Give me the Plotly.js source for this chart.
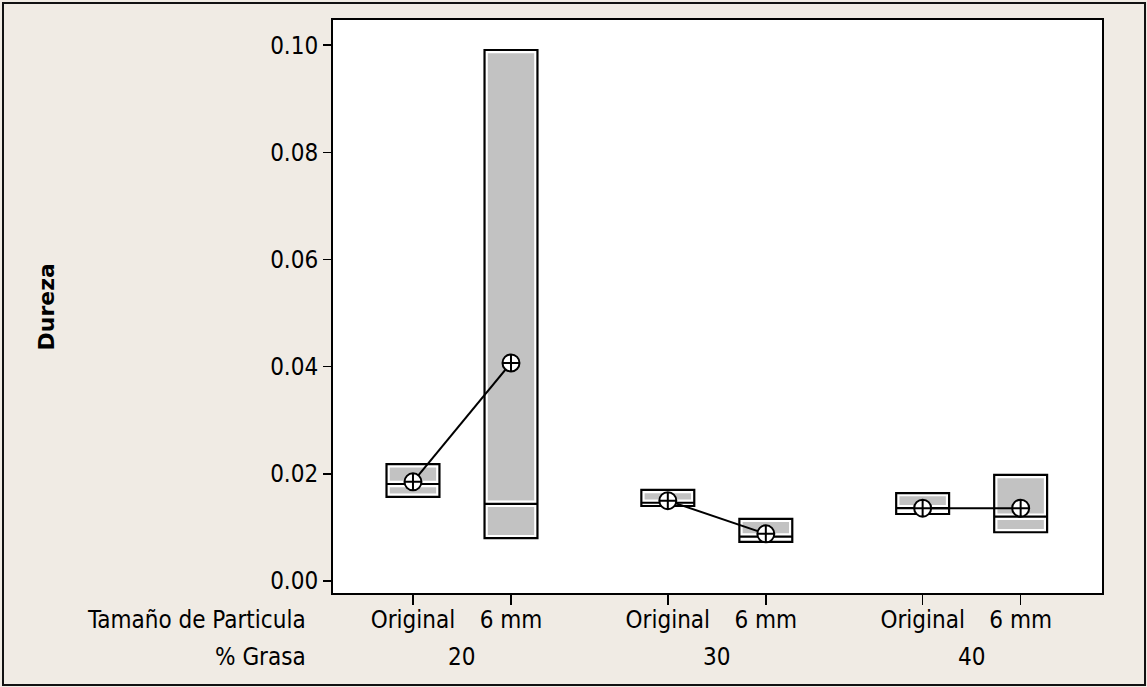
<!DOCTYPE html>
<html>
<head>
<meta charset="utf-8">
<script src="https://cdn.plot.ly/plotly-3.0.1.min.js"></script>
<style>html,body{margin:0;padding:0;background:#f0ebe4;}#chart{width:1147px;height:687px;}</style>
</head>
<body>
<div id="chart"></div>
<script>
// Data (Minitab-style boxplot, no whiskers)
const grasa = ["20", "30", "40"];
const tamano = ["Original", "6 mm"];
const positions = [1, 2, 3.6, 4.6, 6.2, 7.2];
const tickLabels = ["Original", "6 mm", "Original", "6 mm", "Original", "6 mm"];
const q1     = [0.0157, 0.0080, 0.0140, 0.0073, 0.0125, 0.0091];
const median = [0.0181, 0.0144, 0.0146, 0.0083, 0.0136, 0.0120];
const q3     = [0.0218, 0.0991, 0.0170, 0.0116, 0.0164, 0.0198];
const means  = [0.0185, 0.0407, 0.0150, 0.0088, 0.0136, 0.0136];
const yTicks = [0, 0.02, 0.04, 0.06, 0.08, 0.10];

const FONT = "DejaVu Sans Condensed, DejaVu Sans, sans-serif";
const traces = [];

// inner gray fill with white inset band
traces.push({
  type: "box", x: positions, q1: q1, median: median, q3: q3,
  lowerfence: q1, upperfence: q3, width: 0.54,
  fillcolor: "#c2c2c2", line: {color: "#ffffff", width: 6.5},
  boxpoints: false, hoverinfo: "skip", showlegend: false
});
// black outline on top
traces.push({
  type: "box", x: positions, q1: q1, median: median, q3: q3,
  lowerfence: q1, upperfence: q3, width: 0.54,
  fillcolor: "rgba(0,0,0,0)", line: {color: "#000000", width: 2.2},
  boxpoints: false, hoverinfo: "skip", showlegend: false
});
// mean connect lines per % Grasa group
for (let g = 0; g < grasa.length; g++) {
  traces.push({
    type: "scatter", mode: "lines+markers",
    x: positions.slice(2 * g, 2 * g + 2),
    y: means.slice(2 * g, 2 * g + 2),
    line: {color: "#000000", width: 2},
    marker: {symbol: "circle-cross", size: 17, color: "#ffffff", line: {color: "#000000", width: 2}},
    showlegend: false, hoverinfo: "skip"
  });
}

const groupCenters = [];
for (let g = 0; g < grasa.length; g++) groupCenters.push((positions[2 * g] + positions[2 * g + 1]) / 2);

const annotations = [
  {text: "Dureza", xref: "paper", yref: "paper", x: -0.372, y: 0.5, textangle: -90,
   showarrow: false, font: {family: "DejaVu Sans, sans-serif", size: 22, color: "#000", weight: "bold"},
   xanchor: "center", yanchor: "middle"},
  {text: "Tamaño de Particula", xref: "paper", yref: "paper", x: -0.0325, y: -0.047,
   showarrow: false, font: {family: FONT, size: 24, color: "#000"}, xanchor: "right", yanchor: "middle"},
  {text: "% Grasa", xref: "paper", yref: "paper", x: -0.0325, y: -0.112,
   showarrow: false, font: {family: FONT, size: 24, color: "#000"}, xanchor: "right", yanchor: "middle"}
];
for (let g = 0; g < grasa.length; g++) {
  annotations.push({text: grasa[g], xref: "x", yref: "paper", x: groupCenters[g], y: -0.112,
    showarrow: false, font: {family: FONT, size: 24, color: "#000"}, xanchor: "center", yanchor: "middle"});
}

const layout = {
  width: 1147, height: 687,
  margin: {l: 333, r: 45, t: 20, b: 94},
  paper_bgcolor: "#f0ebe4", plot_bgcolor: "#ffffff",
  font: {family: FONT, size: 24, color: "#000"},
  showlegend: false, boxmode: "overlay",
  xaxis: {
    range: [0.184, 8.03], tickmode: "array", tickvals: positions, ticktext: tickLabels,
    ticks: "outside", ticklen: 10, tickwidth: 1.5, tickcolor: "#000", ticklabelstandoff: -6,
    showline: true, mirror: true, linecolor: "#000", linewidth: 2,
    showgrid: false, zeroline: false, tickfont: {family: FONT, size: 24, color: "#000"}
  },
  yaxis: {
    range: [-0.00224, 0.1047], tickmode: "array", tickvals: yTicks,
    tickformat: ".2f", ticks: "outside", ticklen: 8, tickwidth: 1.5, tickcolor: "#000",
    showline: true, mirror: true, linecolor: "#000", linewidth: 2,
    showgrid: false, zeroline: false, tickfont: {family: FONT, size: 24, color: "#000"}
  },
  annotations: annotations,
  shapes: [{type: "rect", xref: "paper", yref: "paper",
    x0: (3 - 333) / 769, x1: (1145 - 333) / 769, y0: (593 - 685) / 573, y1: (593 - 3) / 573,
    line: {color: "#111", width: 2}, fillcolor: "rgba(0,0,0,0)", layer: "below"}]
};

Plotly.newPlot("chart", traces, layout, {displayModeBar: false, staticPlot: true});
</script>
</body>
</html>
